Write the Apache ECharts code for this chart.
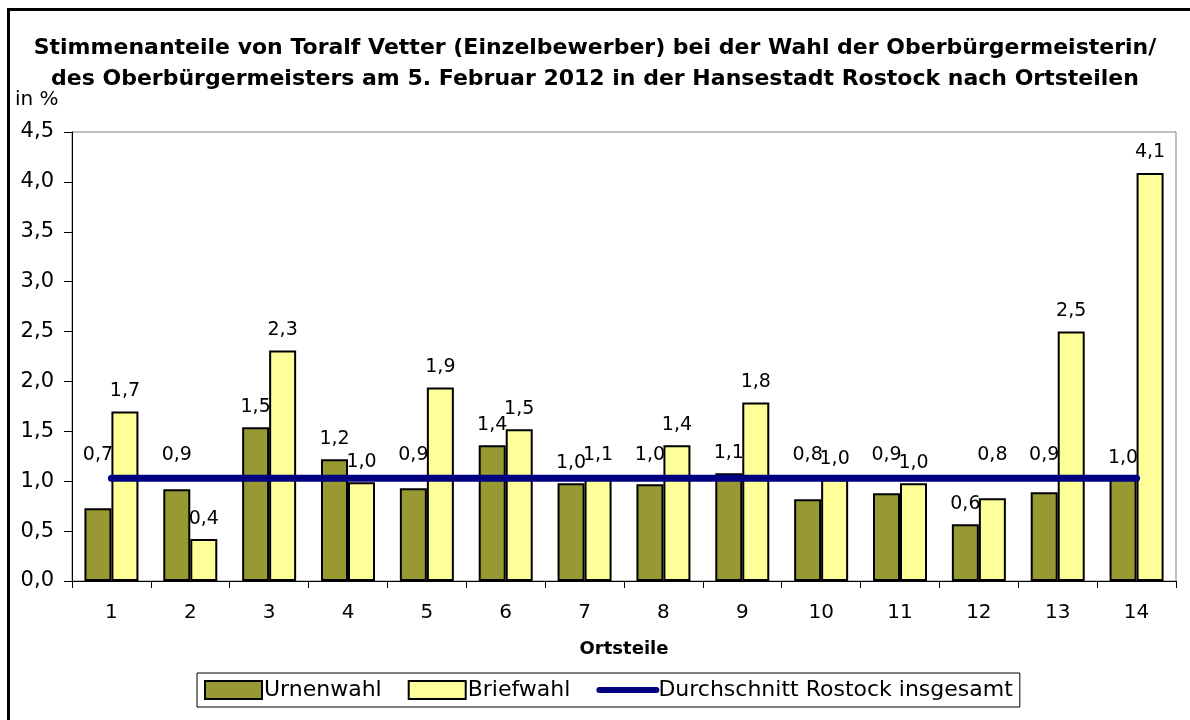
<!DOCTYPE html>
<html>
<head>
<meta charset="utf-8">
<script src="https://cdn.jsdelivr.net/npm/echarts@6/dist/echarts.min.js"></script>
<style>
  html, body { margin: 0; padding: 0; background: #fff; }
  #chart { width: 1190px; height: 720px; }
</style>
</head>
<body>
<div id="chart"></div>
<script>
// Ortsteile 1..14
var ortsteile = ['1', '2', '3', '4', '5', '6', '7', '8', '9', '10', '11', '12', '13', '14'];
var urnenwahl = [0.73, 0.92, 1.54, 1.22, 0.93, 1.36, 0.98, 0.97, 1.08, 0.82, 0.88, 0.57, 0.89, 1.03];
var briefwahl = [1.70, 0.42, 2.31, 0.99, 1.94, 1.52, 1.06, 1.36, 1.79, 1.02, 0.98, 0.83, 2.50, 4.09];
var durchschnitt = [1.03, 1.03, 1.03, 1.03, 1.03, 1.03, 1.03, 1.03, 1.03, 1.03, 1.03, 1.03, 1.03, 1.03];

var font = 'DejaVu Sans';

function komma(v) {
    return v.toFixed(1).replace('.', ',');
}

var myChart = echarts.init(document.getElementById('chart'));

// Beschriftungen, die auf der Durchschnittslinie liegen, nach oben schieben
function ueberLinie(params) {
    var r = params.labelRect;
    var lineY = myChart.convertToPixel({ yAxisIndex: 0 }, durchschnitt[params.dataIndex]);
    if (r.y + r.height > lineY - 6 && r.y < lineY + 6) {
        return { dy: (lineY - 14) - (r.y + r.height) };
    }
    return {};
}

var option = {
    animation: false,
    backgroundColor: '#fff',
    textStyle: { fontFamily: font, color: '#000' },
    title: {
        text: 'Stimmenanteile von Toralf Vetter (Einzelbewerber) bei der Wahl der Oberbürgermeisterin/\ndes Oberbürgermeisters am 5. Februar 2012 in der Hansestadt Rostock nach Ortsteilen',
        left: 'center',
        top: 28,
        textStyle: {
            fontFamily: font,
            fontSize: 22,
            fontWeight: 'bold',
            lineHeight: 31,
            color: '#000'
        }
    },
    graphic: [
        {
            type: 'rect',
            shape: { x: 8.5, y: 9.5, width: 1400, height: 900 },
            style: { fill: 'none', stroke: '#000', lineWidth: 3 },
            silent: true
        },
        {
            type: 'text',
            left: 15,
            top: 90,
            style: { text: 'in %', fontFamily: font, fontSize: 20, fill: '#000' }
        }
    ],
    grid: {
        left: 72,
        right: 14,
        top: 132,
        bottom: 139,
        show: true,
        borderColor: '#808080',
        borderWidth: 1,
        backgroundColor: '#fff'
    },
    legend: {
        left: 197,
        top: 673,
        padding: [6, 7],
        itemGap: 26,
        itemWidth: 57,
        itemHeight: 18,
        borderColor: '#000',
        borderWidth: 1,
        textStyle: { fontFamily: font, fontSize: 22, color: '#000', padding: [0, 0, 0, -3] },
        data: [
            { name: 'Urnenwahl', icon: 'rect' },
            { name: 'Briefwahl', icon: 'rect' },
            {
                name: 'Durchschnitt Rostock insgesamt',
                itemStyle: { opacity: 0 },
                lineStyle: { width: 6, color: '#000080', cap: 'round' }
            }
        ]
    },
    xAxis: {
        type: 'category',
        data: ortsteile,
        name: 'Ortsteile',
        nameLocation: 'middle',
        nameGap: 59,
        nameTextStyle: { fontFamily: font, fontSize: 18, fontWeight: 'bold', color: '#000' },
        axisLine: { lineStyle: { color: '#000', width: 1 } },
        axisTick: { show: true, length: 7, lineStyle: { color: '#000' } },
        axisLabel: { fontFamily: font, fontSize: 20, color: '#000', margin: 22 }
    },
    yAxis: {
        type: 'value',
        min: 0,
        max: 4.5,
        interval: 0.5,
        axisLine: { show: true, lineStyle: { color: '#000', width: 1 } },
        axisTick: { show: true, length: 8, lineStyle: { color: '#000' } },
        splitLine: { show: false },
        axisLabel: {
            fontFamily: font,
            fontSize: 21,
            color: '#000',
            margin: 18,
            formatter: function (v) { return komma(v); }
        }
    },
    series: [
        {
            name: 'Urnenwahl',
            type: 'bar',
            data: urnenwahl,
            barWidth: 27,
            barGap: '0%',
            itemStyle: { color: '#999933', borderColor: '#000', borderWidth: 2 },
            label: {
                show: true,
                position: 'top',
                distance: 11,
                fontFamily: font,
                fontSize: 19,
                color: '#000',
                formatter: function (p) { return komma(p.value); }
            },
            labelLayout: ueberLinie
        },
        {
            name: 'Briefwahl',
            type: 'bar',
            data: briefwahl,
            barWidth: 27,
            barGap: '0%',
            itemStyle: { color: '#FFFF99', borderColor: '#000', borderWidth: 2 },
            label: {
                show: true,
                position: 'top',
                distance: 11,
                fontFamily: font,
                fontSize: 19,
                color: '#000',
                formatter: function (p) { return komma(p.value); }
            },
            labelLayout: ueberLinie
        },
        {
            name: 'Durchschnitt Rostock insgesamt',
            type: 'line',
            data: durchschnitt,
            symbol: 'none',
            z: 5,
            lineStyle: { color: '#000080', width: 7, cap: 'round' },
            itemStyle: { color: '#000080' }
        }
    ]
};
myChart.setOption(option);
</script>
</body>
</html>
